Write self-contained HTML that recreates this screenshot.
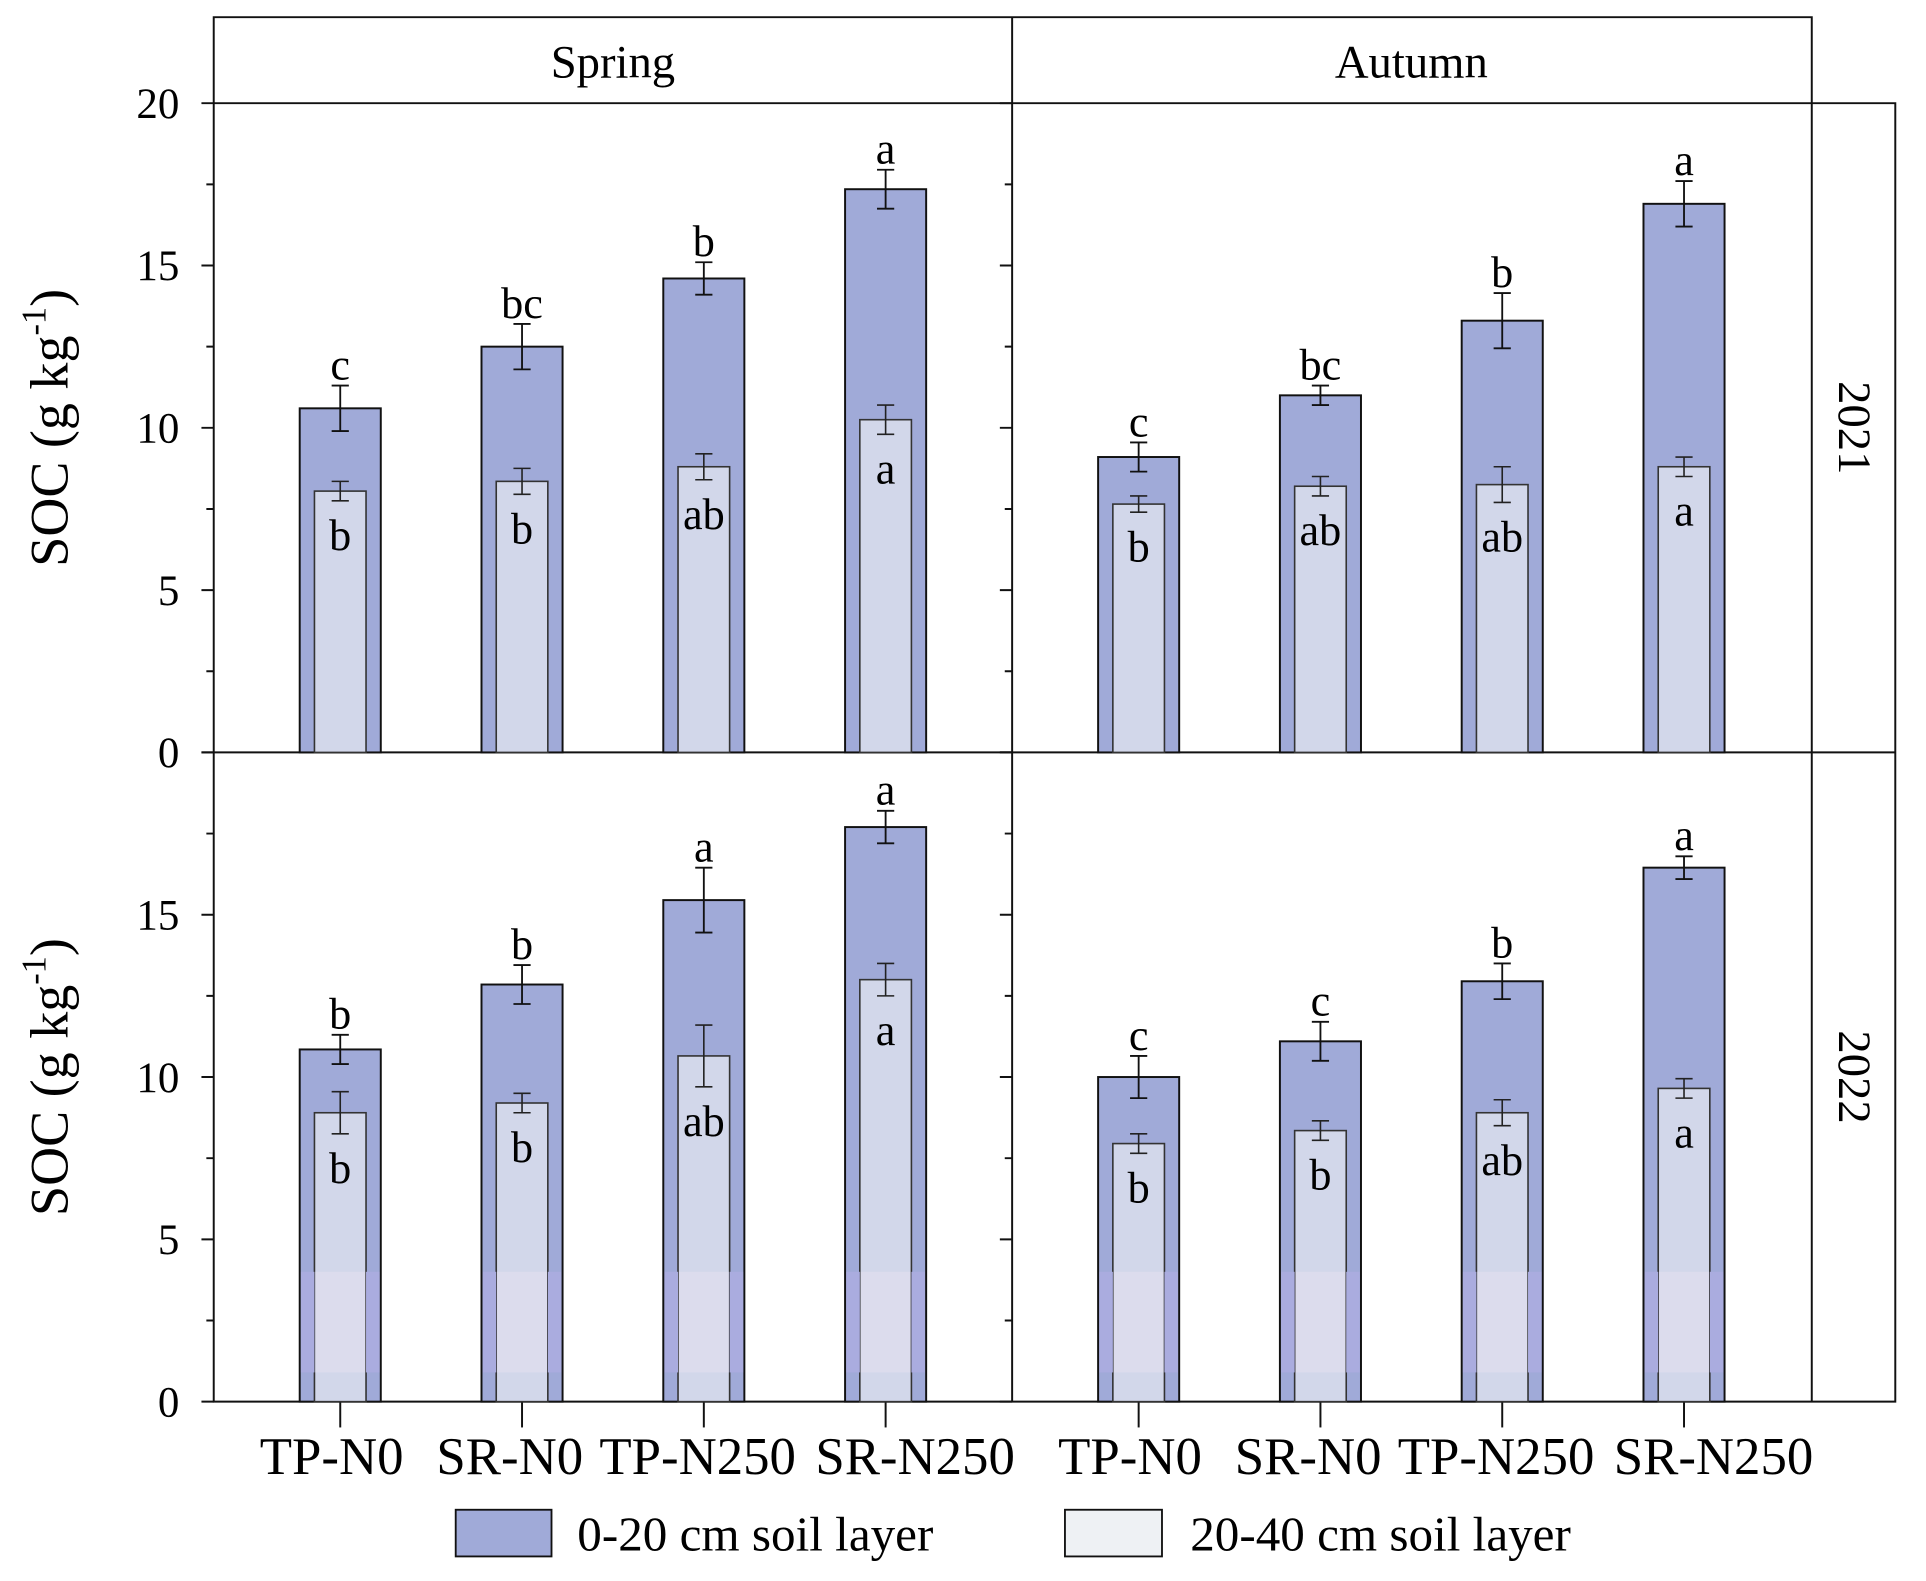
<!DOCTYPE html>
<html><head><meta charset="utf-8"><style>
html,body{margin:0;padding:0;background:#fff}
svg{display:block}
text{font-family:"Liberation Serif",serif;fill:#000}
</style></head><body>
<svg id="chart" width="1926" height="1581" viewBox="0 0 1568 1287" preserveAspectRatio="none" xmlns="http://www.w3.org/2000/svg">
<g id="frame"></g>
<g id="bars"></g>
<g id="labels"></g>
</svg>
<script>
const categories = ["TP-N0","SR-N0","TP-N250","SR-N250"];
const seasons = ["Spring","Autumn"];
const years = ["2021","2022"];
const yTicks = [0,5,10,15,20];
const top2021Spring = [10.6,12.5,14.6,17.35];
const top2021SpringErr = [0.7,0.7,0.5,0.6];
const sub2021Spring = [8.05,8.35,8.8,10.25];
const sub2021SpringErr = [0.3,0.4,0.4,0.45];
const top2021Autumn = [9.1,11.0,13.3,16.9];
const top2021AutumnErr = [0.45,0.3,0.85,0.7];
const sub2021Autumn = [7.65,8.2,8.25,8.8];
const sub2021AutumnErr = [0.25,0.3,0.55,0.3];
const top2022Spring = [10.85,12.85,15.45,17.7];
const top2022SpringErr = [0.45,0.6,1.0,0.5];
const sub2022Spring = [8.9,9.2,10.65,13.0];
const sub2022SpringErr = [0.65,0.3,0.95,0.5];
const top2022Autumn = [10.0,11.1,12.95,16.45];
const top2022AutumnErr = [0.65,0.6,0.55,0.35];
const sub2022Autumn = [7.95,8.35,8.9,9.65];
const sub2022AutumnErr = [0.3,0.3,0.4,0.3];
const topLetters2021Spring = ["c","bc","b","a"];
const subLetters2021Spring = ["b","b","ab","a"];
const topLetters2021Autumn = ["c","bc","b","a"];
const subLetters2021Autumn = ["b","ab","ab","a"];
const topLetters2022Spring = ["b","b","a","a"];
const subLetters2022Spring = ["b","b","ab","a"];
const topLetters2022Autumn = ["c","c","b","a"];
const subLetters2022Autumn = ["b","b","ab","a"];

const data = [
 [{t:top2021Spring,te:top2021SpringErr,s:sub2021Spring,se:sub2021SpringErr,tl:topLetters2021Spring,sl:subLetters2021Spring},
  {t:top2021Autumn,te:top2021AutumnErr,s:sub2021Autumn,se:sub2021AutumnErr,tl:topLetters2021Autumn,sl:subLetters2021Autumn}],
 [{t:top2022Spring,te:top2022SpringErr,s:sub2022Spring,se:sub2022SpringErr,tl:topLetters2022Spring,sl:subLetters2022Spring},
  {t:top2022Autumn,te:top2022AutumnErr,s:sub2022Autumn,se:sub2022AutumnErr,tl:topLetters2022Autumn,sl:subLetters2022Autumn}]
];
const NS="http://www.w3.org/2000/svg";
const L=174, MID=824, R=1475, RS=1543, HT=14, Y0=84, ROWH=528.5;
const panelX=[L,MID];
const labelShift=[-7,-10,-5,24];
function yScale(row,v){return Y0+ROWH*(row+1)-v*ROWH/20;}
function xScale(col,i){return panelX[col]+103+i*148;}
function mk(parent,tag,attrs,text){const e=document.createElementNS(NS,tag);for(const k in attrs)e.setAttribute(k,attrs[k]);if(text!==undefined)e.textContent=text;parent.appendChild(e);return e;}
const frame=document.getElementById('frame'), bars=document.getElementById('bars'), labels=document.getElementById('labels');
const ln={stroke:"#111","stroke-width":1.6,fill:"none"};

for(let r=0;r<2;r++)for(let c=0;c<2;c++){
 const d=data[r][c];
 for(let i=0;i<4;i++){
  const cx=xScale(c,i), base=yScale(r,0);
  const yt=yScale(r,d.t[i]), ys=yScale(r,d.s[i]);
  const g=mk(bars,'g',{});
  
  
  const ob=mk(g,'rect',{x:cx-33,y:yt,width:66,height:base-yt,fill:"#a0aad8",stroke:"#111","stroke-width":1.6});
  
  
  const ib=mk(g,'rect',{x:cx-21,y:ys,width:42,height:base-ys,fill:"#d2d7ea",stroke:"#333","stroke-width":1.3});
  
  
  if(r===1){
   const b1=yScale(r,4), b2=yScale(r,0.9);
   mk(g,'rect',{x:cx-32,y:b1,width:11,height:b2-b1,fill:"#aaacdf"});
   mk(g,'rect',{x:cx+21,y:b1,width:11,height:b2-b1,fill:"#aaacdf"});
   mk(g,'rect',{x:cx-20.3,y:b1,width:40.6,height:b2-b1,fill:"#dcdced"});
  }
  const te=d.te[i], se=d.se[i];
  const eb=mk(g,'path',{d:`M${cx},${yScale(r,d.t[i]-te)}V${yScale(r,d.t[i]+te)}M${cx-7},${yScale(r,d.t[i]-te)}h14M${cx-7},${yScale(r,d.t[i]+te)}h14`,stroke:"#111","stroke-width":1.5,fill:"none"});
  
  
  const eb2=mk(g,'path',{d:`M${cx},${yScale(r,d.s[i]-se)}V${yScale(r,d.s[i]+se)}M${cx-7},${yScale(r,d.s[i]-se)}h14M${cx-7},${yScale(r,d.s[i]+se)}h14`,stroke:"#222","stroke-width":1.3,fill:"none"});
  
  
  const t1=mk(g,'text',{x:cx,y:yScale(r,d.t[i]+te)-5,"text-anchor":"middle","font-size":36},d.tl[i]);
  
  
  const t2=mk(g,'text',{x:cx,y:yScale(r,d.s[i]-se)+40,"text-anchor":"middle","font-size":36},d.sl[i]);
  
  
 }
}
const hb=mk(frame,'path',Object.assign({d:`M${L},${Y0}V${HT}H${R}V${Y0}M${MID},${HT}V${Y0}`},ln));


const pb=mk(frame,'path',Object.assign({d:`M${L},${Y0}H${RS}V${Y0+2*ROWH}H${L}ZM${MID},${Y0}V${Y0+2*ROWH}M${R},${Y0}V${Y0+2*ROWH}M${L},${Y0+ROWH}H${RS}`},ln));


for(let c=0;c<2;c++){
 const s=mk(labels,'text',{x:panelX[c]+325,y:63,"text-anchor":"middle","font-size":38},seasons[c]);
 
 
}
for(let r=0;r<2;r++){
 const cy=Y0+ROWH*r+ROWH/2;
 const yl=mk(labels,'text',{x:0,y:0,"text-anchor":"middle","font-size":38,transform:`translate(1497,${cy}) rotate(90)`},years[r]);
 
 
 const yt=mk(labels,'text',{x:0,y:0,"text-anchor":"middle","font-size":44,transform:`translate(55,${cy}) rotate(-90)`});
 yt.innerHTML='SOC (g kg<tspan dy="-18" font-size="28">-1</tspan><tspan dy="18">)</tspan>';
 
 
 for(const v of yTicks){
  const y=yScale(r,v);
  if(!(r===1&&v===20)){
   const tl=mk(labels,'text',{x:146,y:y+12,"text-anchor":"end","font-size":35},String(v));
   
   
  }
  mk(frame,'path',Object.assign({d:`M${L},${y}h-10M${MID},${y}h-10`},ln));
  if(v<20){const ym=yScale(r,v+2.5);mk(frame,'path',Object.assign({d:`M${L},${ym}h-6M${MID},${ym}h-6`},ln));}
 }
}
for(let c=0;c<2;c++)for(let i=0;i<4;i++){
 const cx=xScale(c,i);
 mk(frame,'path',Object.assign({d:`M${cx},${Y0+2*ROWH}v21`},ln));
 const xl=mk(labels,'text',{x:cx+labelShift[i],y:1200,"text-anchor":"middle","font-size":43},categories[i]);
 
 
}
const lg=mk(labels,'g',{});


const l1=mk(lg,'rect',{x:371,y:1229,width:78,height:38,fill:"#a0aad8",stroke:"#111","stroke-width":1.5});


const lt1=mk(lg,'text',{x:470,y:1262,"font-size":40},"0-20 cm soil layer");


const l2=mk(lg,'rect',{x:867,y:1229,width:79,height:38,fill:"#eef1f4",stroke:"#111","stroke-width":1.5});


const lt2=mk(lg,'text',{x:969,y:1262,"font-size":40},"20-40 cm soil layer");


</script>
</body></html>
